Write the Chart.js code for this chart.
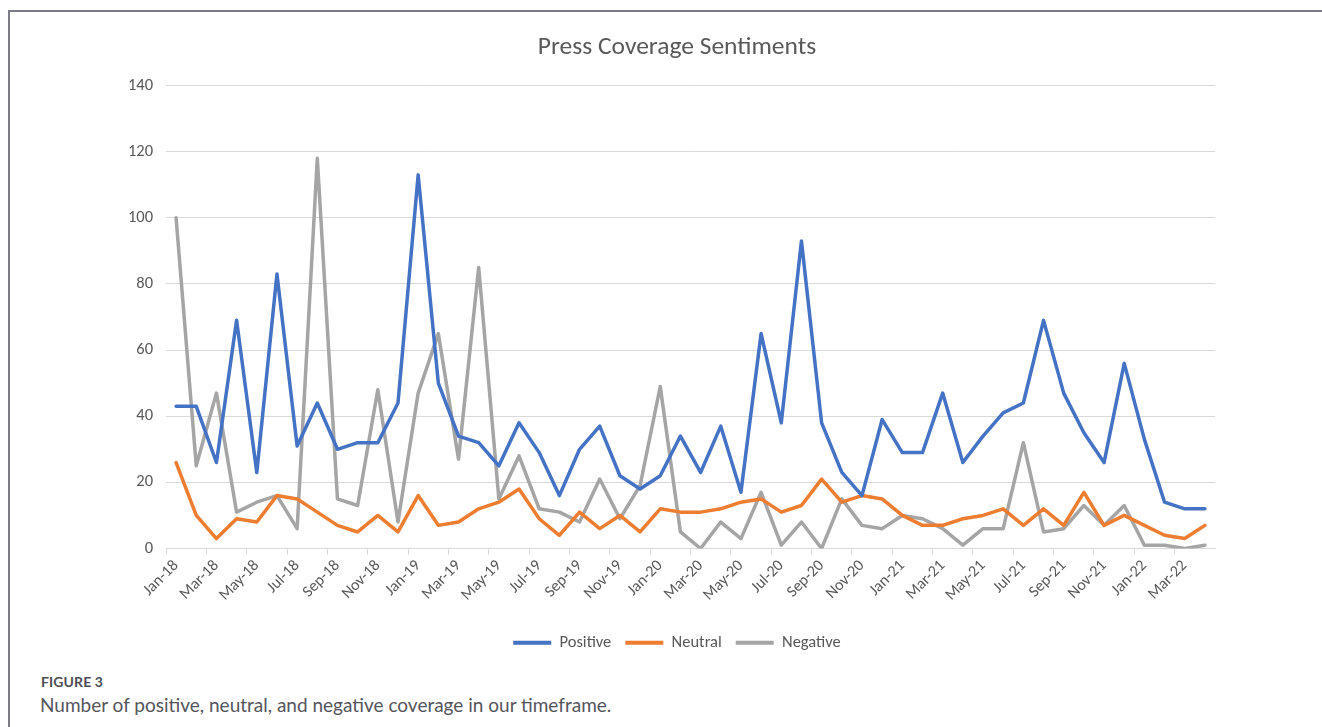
<!DOCTYPE html>
<html>
<head>
<meta charset="utf-8">
<title>Press Coverage Sentiments</title>
<script src="https://cdn.jsdelivr.net/npm/chart.js@4.4.1/dist/chart.umd.min.js"></script>
<style>
  html, body { margin: 0; padding: 0; background: #ffffff; }
  body { width: 1322px; height: 727px; position: relative; overflow: hidden; }
  .frame {
    position: absolute; left: 8px; top: 10px; right: -4px; bottom: -4px;
    border-top: 2px solid #7c7c86; border-left: 2px solid #7c7c86;
  }
  #chart { position: absolute; left: 0; top: 0; }
  .fig-label {
    position: absolute; left: 41px; top: 673px;
    font-family: Lato, "Open Sans", sans-serif; font-weight: 700; font-size: 14px;
    color: #4d4d55; letter-spacing: 0.1px;
  }
  .fig-caption {
    position: absolute; left: 40px; top: 693px;
    font-family: Lato, "Open Sans", sans-serif; font-size: 19px;
    color: #55555c;
  }
</style>
</head>
<body>
<div class="frame"></div>
<canvas id="chart" width="1322" height="661"></canvas>
<div class="fig-label">FIGURE 3</div>
<div class="fig-caption">Number of positive, neutral, and negative coverage in our timeframe.</div>
<script>
// Monthly article counts, January 2018 through April 2022
const months = [
  "Jan-18","Feb-18","Mar-18","Apr-18","May-18","Jun-18","Jul-18","Aug-18","Sep-18","Oct-18","Nov-18","Dec-18",
  "Jan-19","Feb-19","Mar-19","Apr-19","May-19","Jun-19","Jul-19","Aug-19","Sep-19","Oct-19","Nov-19","Dec-19",
  "Jan-20","Feb-20","Mar-20","Apr-20","May-20","Jun-20","Jul-20","Aug-20","Sep-20","Oct-20","Nov-20","Dec-20",
  "Jan-21","Feb-21","Mar-21","Apr-21","May-21","Jun-21","Jul-21","Aug-21","Sep-21","Oct-21","Nov-21","Dec-21",
  "Jan-22","Feb-22","Mar-22","Apr-22"
];
const positive = [
  43, 43, 26, 69, 23, 83, 31, 44, 30, 32, 32, 44,
  113, 50, 34, 32, 25, 38, 29, 16, 30, 37, 22, 18,
  22, 34, 23, 37, 17, 65, 38, 93, 38, 23, 16, 39,
  29, 29, 47, 26, 34, 41, 44, 69, 47, 35, 26, 56,
  33, 14, 12, 12
];
const neutral = [
  26, 10, 3, 9, 8, 16, 15, 11, 7, 5, 10, 5,
  16, 7, 8, 12, 14, 18, 9, 4, 11, 6, 10, 5,
  12, 11, 11, 12, 14, 15, 11, 13, 21, 14, 16, 15,
  10, 7, 7, 9, 10, 12, 7, 12, 7, 17, 7, 10,
  7, 4, 3, 7
];
const negative = [
  100, 25, 47, 11, 14, 16, 6, 118, 15, 13, 48, 8,
  47, 65, 27, 85, 15, 28, 12, 11, 8, 21, 9, 19,
  49, 5, 0, 8, 3, 17, 1, 8, 0, 15, 7, 6,
  10, 9, 6, 1, 6, 6, 32, 5, 6, 13, 7, 13,
  1, 1, 0, 1
];
const yTicks = [0, 20, 40, 60, 80, 100, 120, 140];

const FONT = "Carlito, Lato, 'Open Sans', sans-serif";
const TEXT = "#595959";
const GRID = "#d9d9d9";

function series(label, data, color) {
  return {
    label, data,
    borderColor: color, backgroundColor: color,
    borderWidth: 3.5, pointRadius: 0, pointHoverRadius: 0,
    tension: 0, fill: false,
    borderJoinStyle: "round", borderCapStyle: "round"
  };
}

new Chart(document.getElementById("chart"), {
  type: "line",
  data: {
    labels: months,
    datasets: [
      series("Positive", positive, "#4472C4"),
      series("Neutral", neutral, "#ED7D31"),
      series("Negative", negative, "#A5A5A5")
    ]
  },
  options: {
    responsive: false,
    animation: false,
    layout: { padding: { left: 139, right: 107, top: 0, bottom: 0 } },
    plugins: {
      tooltip: { enabled: false },
      title: {
        display: true,
        text: "Press Coverage Sentiments",
        color: TEXT,
        font: { family: FONT, size: 25.5, weight: "normal" },
        padding: { top: 32, bottom: 23 }
      },
      legend: {
        position: "bottom",
        labels: {
          color: TEXT,
          font: { family: FONT, size: 16.5 },
          boxWidth: 38,
          boxHeight: 4,
          padding: 14,
          generateLabels(chart) {
            return Chart.defaults.plugins.legend.labels.generateLabels(chart)
              .map(item => Object.assign(item, { lineWidth: 0 }));
          }
        }
      }
    },
    scales: {
      x: {
        type: "category",
        offset: true,
        border: { display: true, color: GRID, width: 1 },
        grid: {
          offset: true,
          drawOnChartArea: false,
          drawTicks: true,
          tickLength: 6,
          color: ctx => (ctx.index % 2 === 0 ? GRID : "rgba(0,0,0,0)")
        },
        ticks: {
          autoSkip: false,
          minRotation: 45,
          maxRotation: 45,
          color: TEXT,
          font: { family: FONT, size: 16 },
          padding: 2,
          callback: (value, index) => (index % 2 === 0 ? months[index] : "")
        },
        afterFit(scale) { scale.height = 72; }
      },
      y: {
        min: 0,
        max: 140,
        border: { display: false },
        grid: { color: GRID, lineWidth: 1, drawTicks: false },
        afterBuildTicks(scale) { scale.ticks = yTicks.map(v => ({ value: v })); },
        ticks: {
          color: TEXT,
          font: { family: FONT, size: 16.5 },
          padding: 13
        },
        afterFit(scale) {
          scale.width = 27;
          // the narrow axis box would otherwise clip the wider tick labels
          scale._computeLabelArea = () => undefined;
        }
      }
    }
  }
});
</script>
</body>
</html>
